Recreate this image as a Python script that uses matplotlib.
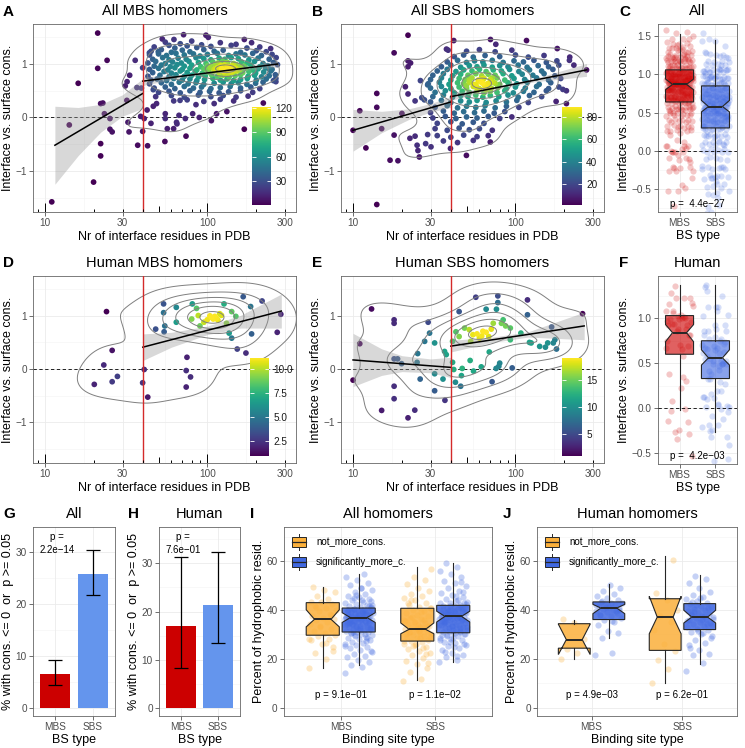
import numpy as np
import matplotlib
matplotlib.use("Agg")
import matplotlib.pyplot as plt
from matplotlib.colors import to_rgba
from matplotlib.patches import Rectangle
from matplotlib.ticker import NullLocator

plt.rcParams['font.family'] = ['Liberation Sans', 'DejaVu Sans']

W, H = 745, 748

# ---------------- data ----------------
# A: all MBS homomers (nr interface residues, interface vs surface cons.)
A_PTS = [(21.1, 1.58), (21.1, 0.92), (24.1, 1.07), (16.0, 0.64), (35.9, 1.07), (33.2, 0.79),
         (32.0, 0.67), (31.2, 0.59), (36.8, 0.56), (39.2, 0.55), (39.9, 0.93), (31.9, 0.32),
         (22.7, 0.27), (22.0, 0.26), (23.2, 0.07), (25.1, -0.02), (14.1, -0.14), (25.1, -0.22),
         (25.9, -0.27), (32.4, -0.09), (32.9, -0.27), (39.9, -0.26), (38.8, 0.02), (40.8, -0.02),
         (44.9, -0.11), (37.2, -0.52), (42.8, -0.53), (22.0, -0.49), (22.0, -0.72), (19.9, -1.21),
         (11.0, -1.58), (46.4, 0.21), (48.6, 0.26), (42.5, 0.14), (55.0, 0.07), (55.0, -0.02),
         (56.6, -0.21), (61.9, -0.21), (64.9, -0.12), (64.5, -0.09), (66.8, 0.04), (73.1, -0.02),
         (73.8, -0.35), (54.7, -0.45), (89.1, 0.0), (81.1, 0.07), (105.7, -0.06), (113.8, 0.07),
         (131.7, 0.11), (168.6, -0.22), (220.8, 0.27), (67.8, 0.32), (46.4, 0.52),
         (71.3, 1.55), (97.9, 1.54), (101.2, 1.50), (52.7, 1.47), (62.2, 1.46), (168.7, 1.46),
         (187, 1.40), (245, 1.29), (43.9, 1.21), (49.8, 1.23), (264, 0.73), (264, 0.67), (237, 0.92),
         (55, 1.41), (68, 1.38), (80, 1.43), (92, 1.36), (120, 1.40), (150, 1.37),
         (47, 1.32), (58, 1.35), (63, 1.30), (75, 1.34), (86, 1.31), (105, 1.33), (140, 1.35), (175, 1.30), (210, 1.32),
         (45, 1.24), (52, 1.27), (60, 1.22), (70, 1.26), (78, 1.23), (95, 1.27), (110, 1.24), (125, 1.26),
         (160, 1.22), (200, 1.25), (230, 1.23),
         (44, 1.17), (50, 1.19), (56, 1.16), (64, 1.20), (72, 1.17), (82, 1.19), (90, 1.15), (100, 1.18),
         (115, 1.20), (135, 1.16), (150, 1.19), (170, 1.17), (190, 1.20), (215, 1.16), (250, 1.18),
         (46, 1.09), (53, 1.12), (58, 1.08), (66, 1.11), (74, 1.09), (85, 1.12), (95, 1.10), (105, 1.08),
         (118, 1.11), (128, 1.09), (140, 1.12), (155, 1.10), (180, 1.08), (205, 1.11), (240, 1.09), (265, 1.12),
         (43, 1.02), (48, 1.05), (55, 1.01), (61, 1.04), (69, 1.02), (77, 1.05), (88, 1.03), (98, 1.01),
         (108, 1.04), (116, 1.02), (124, 1.05), (133, 1.03), (145, 1.01), (162, 1.04), (175, 1.02),
         (195, 1.05), (220, 1.01), (255, 1.03),
         (47, 0.96), (52, 0.98), (59, 0.95), (65, 0.99), (72, 0.96), (80, 0.98), (91, 0.95), (100, 0.97),
         (112, 0.99), (120, 0.96), (127, 0.98), (135, 0.95), (142, 0.97), (150, 0.99), (168, 0.96),
         (185, 0.98), (210, 0.95), (235, 0.97), (270, 0.99),
         (44, 0.90), (50, 0.92), (57, 0.89), (63, 0.93), (70, 0.90), (78, 0.92), (86, 0.89), (95, 0.91),
         (104, 0.93), (113, 0.90), (122, 0.92), (130, 0.89), (138, 0.91), (146, 0.93), (158, 0.90),
         (172, 0.92), (190, 0.89), (205, 0.91), (228, 0.93), (250, 0.90),
         (46, 0.84), (54, 0.86), (60, 0.83), (68, 0.87), (75, 0.84), (84, 0.86), (93, 0.83), (102, 0.85),
         (110, 0.87), (118, 0.84), (126, 0.86), (134, 0.83), (143, 0.85), (152, 0.87), (165, 0.84),
         (180, 0.86), (198, 0.83), (222, 0.85), (245, 0.87),
         (43, 0.77), (51, 0.79), (58, 0.76), (64, 0.80), (72, 0.77), (80, 0.79), (88, 0.76), (97, 0.78),
         (106, 0.80), (115, 0.77), (125, 0.79), (136, 0.76), (148, 0.78), (160, 0.80), (178, 0.77),
         (195, 0.79), (215, 0.76), (240, 0.78), (262, 0.80),
         (45, 0.70), (49, 0.72), (56, 0.69), (62, 0.73), (70, 0.70), (78, 0.72), (86, 0.69), (96, 0.71),
         (108, 0.73), (120, 0.70), (132, 0.72), (145, 0.69), (160, 0.71), (176, 0.73), (200, 0.70),
         (230, 0.72), (255, 0.69),
         (44, 0.63), (52, 0.65), (60, 0.62), (67, 0.66), (76, 0.63), (85, 0.65), (95, 0.62), (110, 0.64),
         (125, 0.66), (140, 0.63), (155, 0.65), (175, 0.62), (198, 0.64), (220, 0.66),
         (47, 0.55), (55, 0.57), (63, 0.54), (72, 0.58), (82, 0.55), (92, 0.57), (105, 0.54), (120, 0.56),
         (138, 0.58), (160, 0.55), (185, 0.57), (210, 0.54),
         (50, 0.47), (58, 0.49), (68, 0.46), (78, 0.50), (90, 0.47), (103, 0.49), (118, 0.46), (135, 0.48),
         (160, 0.50), (190, 0.47),
         (48, 0.39), (60, 0.41), (72, 0.38), (88, 0.42), (105, 0.39), (125, 0.41), (150, 0.38), (178, 0.40),
         (62, 0.31), (75, 0.33), (95, 0.30), (120, 0.34), (145, 0.31), (85, 0.24), (110, 0.26),
         (115, 0.93), (125, 0.88), (132, 0.95), (140, 0.86), (128, 0.82), (118, 1.00), (145, 0.98),
         (110, 0.90), (135, 0.91), (150, 0.92), (122, 0.97), (138, 0.84), (105, 0.95), (160, 0.95),
         (100, 0.88), (130, 1.02), (120, 0.80), (148, 0.88)]

# B: all SBS homomers
B_PTS = [(10.0, -0.24), (11.0, 0.125), (12.0, -0.57), (14.0, 0.45), (14.0, 0.19), (14.0, -1.63),
         (15.0, -0.21), (16.9, -0.80), (17.9, 1.21), (17.9, -0.33), (18.9, -0.81), (20.0, 0.075),
         (21.0, 0.575), (21.8, 1.54), (21.8, 1.06), (21.8, 0.95), (21.8, 0.44), (22.4, -0.39),
         (22.6, 1.02), (24.1, 0.31), (24.1, -0.35), (24.8, -0.52), (25.1, -0.62), (25.6, -0.74),
         (26.0, 0.69), (26.5, 0.37), (27.5, 0.33), (28.0, -0.49), (28.8, -0.32), (28.8, 0.61),
         (30.2, -0.55), (37.6, 1.28), (38.5, 1.26), (39.8, -0.58), (41.7, 1.44), (49.9, -0.71),
         (70.2, 1.46), (75.7, 1.37), (117, 1.44), (181, 1.29), (216, 1.13), (229, 0.98), (215, 1.07),
         (206, 0.50), (206, 0.26), (274, 0.89), (196, 0.525), (178, 0.30),
         (50, 1.24), (60, 1.27), (75, 1.23), (95, 1.26),
         (42, 1.14), (48, 1.17), (55, 1.13), (65, 1.16), (80, 1.14), (100, 1.17), (120, 1.13), (150, 1.16),
         (38, 1.04), (44, 1.07), (50, 1.03), (56, 1.06), (63, 1.04), (72, 1.07), (84, 1.03), (98, 1.06),
         (112, 1.04), (130, 1.07), (155, 1.03), (180, 1.06),
         (35, 0.95), (40, 0.98), (46, 0.94), (52, 0.97), (58, 0.95), (64, 0.98), (72, 0.94), (80, 0.97),
         (90, 0.95), (104, 0.98), (118, 0.94), (138, 0.97), (160, 0.95), (185, 0.98),
         (33, 0.87), (38, 0.90), (43, 0.86), (48, 0.89), (54, 0.87), (60, 0.90), (66, 0.86), (73, 0.89),
         (82, 0.87), (92, 0.90), (105, 0.86), (122, 0.89), (145, 0.87), (170, 0.90),
         (31, 0.79), (36, 0.82), (41, 0.78), (46, 0.81), (51, 0.79), (57, 0.82), (62, 0.78), (68, 0.81),
         (75, 0.79), (84, 0.82), (95, 0.78), (110, 0.81), (128, 0.79), (150, 0.82), (175, 0.78),
         (30, 0.71), (35, 0.74), (40, 0.70), (45, 0.73), (49, 0.71), (54, 0.74), (59, 0.70), (64, 0.73),
         (70, 0.71), (77, 0.74), (86, 0.70), (98, 0.73), (114, 0.71), (135, 0.74), (160, 0.70), (190, 0.73),
         (29, 0.63), (34, 0.66), (39, 0.62), (44, 0.65), (48, 0.63), (52, 0.66), (57, 0.62), (62, 0.65),
         (67, 0.63), (73, 0.66), (80, 0.62), (90, 0.65), (102, 0.63), (118, 0.66), (140, 0.62), (165, 0.65),
         (30, 0.55), (35, 0.58), (40, 0.54), (45, 0.57), (50, 0.55), (55, 0.58), (60, 0.54), (65, 0.57),
         (71, 0.55), (78, 0.58), (88, 0.54), (100, 0.57), (115, 0.55), (135, 0.58), (160, 0.54), (185, 0.57),
         (32, 0.47), (37, 0.50), (42, 0.46), (47, 0.49), (52, 0.47), (58, 0.50), (64, 0.46), (70, 0.49),
         (77, 0.47), (86, 0.50), (97, 0.46), (112, 0.49), (130, 0.47), (155, 0.50),
         (31, 0.39), (36, 0.42), (41, 0.38), (46, 0.41), (51, 0.39), (57, 0.42), (63, 0.38), (70, 0.41),
         (79, 0.39), (90, 0.42), (104, 0.38), (122, 0.41), (145, 0.39),
         (30, 0.29), (35, 0.32), (40, 0.28), (46, 0.31), (52, 0.29), (58, 0.32), (66, 0.28), (76, 0.31),
         (88, 0.29), (102, 0.32), (120, 0.28),
         (32, 0.19), (38, 0.22), (44, 0.18), (50, 0.21), (57, 0.19), (65, 0.22), (75, 0.18), (88, 0.21), (105, 0.19),
         (30, 0.09), (36, 0.12), (42, 0.08), (48, 0.11), (56, 0.09), (64, 0.12), (74, 0.08), (86, 0.11),
         (31, -0.01), (37, 0.02), (43, -0.02), (50, 0.01), (58, -0.01), (68, 0.02), (80, -0.02), (95, 0.01),
         (33, -0.11), (40, -0.08), (47, -0.12), (55, -0.09), (64, -0.11),
         (32, -0.21), (38, -0.24), (45, -0.20), (52, -0.23), (60, -0.21), (72, -0.24),
         (33, -0.34), (40, -0.37), (48, -0.33), (58, -0.36), (68, -0.34),
         (36, -0.44), (44, -0.47), (55, -0.43), (70, -0.46),
         (55, 0.62), (60, 0.68), (65, 0.60), (70, 0.66), (62, 0.72), (58, 0.56), (68, 0.58), (75, 0.64),
         (52, 0.70), (66, 0.52), (72, 0.74), (63, 0.64), (57, 0.60), (78, 0.56), (50, 0.60)]

# D: human MBS homomers
D_PTS = [(23.9, 1.08), (25.9, 0.35), (23.0, 0.075), (20.1, -0.29), (25.9, -0.24), (27.9, -0.14),
         (40.8, -0.01), (39.9, -0.26), (42.9, -0.53), (74.8, 0.22), (74.0, -0.03), (78.7, -0.15),
         (74.0, -0.34), (48.0, 0.75), (53.7, 1.225), (53.7, 1.06), (54.6, 0.81), (54.1, 0.70),
         (64.3, 1.16), (64.3, 0.88), (80.7, 1.225), (85.7, 1.14), (87.8, 1.006), (80.0, 0.94),
         (89.9, 0.81), (95.1, 0.88), (99.7, 0.925), (103.5, 1.0), (108.6, 0.94), (113.8, 0.956),
         (119, 1.04), (111, 0.99), (116, 0.92), (131, 0.86), (136, 0.675), (141, 0.58), (141, 1.08),
         (126.5, 1.225), (149.6, 0.99), (152.6, 0.375), (172.6, 0.30), (166, 1.36), (184.5, 1.175),
         (187, 0.66), (217, 1.28), (269, 0.69), (283, 1.03), (106, 0.97), (122, 1.01)]

# E: human SBS homomers
E_PTS = [(10.0, -0.21), (11.0, 0.475), (13.0, 1.13), (15.0, -0.78), (17.9, 0.925), (17.9, 0.86),
         (17.9, 0.19), (17.9, -0.325), (17.9, -0.56), (18.8, 0.19), (19.9, 0.10), (21.8, -0.92),
         (24.0, -0.775), (24.8, 0.125), (25.0, 0.29), (25.9, -0.19), (27.6, 0.52), (29.0, 0.88),
         (29.6, 0.675), (31.8, 0.49), (31.8, -0.09), (31.8, -0.41), (35.8, -0.19), (36.6, 0.33),
         (37.5, 0.27), (36.8, -0.59), (41.0, 0.125), (41.7, -0.01), (42.7, -0.25), (46.0, -0.325),
         (45.0, 1.08), (47.0, 0.01), (46.5, -0.125), (41.0, 0.52), (43.0, 0.70), (45.0, 0.61),
         (48.6, 0.77), (52.0, 0.74), (54.7, 0.645), (57.0, 1.35), (53.0, 0.52), (52.6, 0.16),
         (55.2, -0.04), (61.6, 0.04), (60.0, 0.58), (63.0, 0.71), (66.0, 0.69), (68.5, 0.61),
         (71.0, 0.75), (69.0, 0.32), (73.0, 0.86), (76.4, 1.125), (77.9, 1.375), (77.9, 1.25),
         (71.8, -0.24), (76.0, 0.01), (79.0, 0.05), (82.0, 0.86), (84.0, 0.925), (80.0, 0.11),
         (87.0, 0.81), (93.0, 0.77), (93.0, 0.55), (95.5, 0.02), (108, 0.675), (118.6, 1.30),
         (122, 0.50), (125, 0.49), (118.6, 1.02), (141, 0.425), (153, 0.41), (158, 0.49), (167, 0.79),
         (175, 0.55), (171, 0.49), (179, 0.375), (259, 1.04), (66.0, 1.125), (58.0, 0.66), (62.0, 0.62)]

# linear fits (x, fitted y, half width of CI) left and right of the 40-residue cut
A_FITS = [([11.5, 16, 22, 30, 40], [-0.52, -0.263, -0.015, 0.226, 0.45], [0.73, 0.45, 0.26, 0.20, 0.28]),
          ([40, 70, 130, 270], [0.68, 0.774, 0.878, 1.0], [0.08, 0.03, 0.025, 0.06])]
B_FITS = [([10, 15, 22, 30, 40], [-0.24, -0.085, 0.061, 0.18, 0.29], [0.39, 0.20, 0.10, 0.08, 0.10]),
          ([40, 70, 130, 274], [0.39, 0.535, 0.696, 0.89], [0.07, 0.03, 0.03, 0.12])]
D_FITS = [([40, 60, 100, 160, 285], [0.41, 0.55, 0.727, 0.89, 1.09], [0.25, 0.14, 0.08, 0.12, 0.32])]
E_FITS = [([10, 15, 20, 30, 40], [0.17, 0.129, 0.10, 0.059, 0.03], [0.50, 0.25, 0.15, 0.13, 0.19]),
          ([40, 70, 120, 265], [0.43, 0.543, 0.651, 0.81], [0.11, 0.05, 0.05, 0.26])]

# box stats: (median, q1, q3, whisker low, whisker high, notch low, notch high)
C_BOX = {'MBS': (0.87, 0.64, 1.06, 0.10, 1.53, 0.80, 0.94),
         'SBS': (0.58, 0.30, 0.85, -0.57, 1.45, 0.51, 0.66)}
F_BOX = {'MBS': (0.84, 0.60, 1.03, -0.02, 1.37, 0.74, 0.93),
         'SBS': (0.56, 0.33, 0.75, -0.26, 1.37, 0.48, 0.65)}
C_P = 'p =  4.4e\u221227'
F_P = 'p =  4.2e\u221203'

BS_TYPES = ['MBS', 'SBS']
G_PCT = [6.6, 25.8]
G_LO = [4.5, 21.7]
G_HI = [9.2, 30.3]
H_PCT = [17.0, 21.4]
H_LO = [8.4, 13.4]
H_HI = [31.3, 32.3]
G_P = 'p =\n2.2e\u221214'
H_P = 'p =\n7.6e\u221201'

GROUPS = ['not_more_cons.', 'significantly_more_c.']
I_MBS_NOT = [16.5, 20.0, 22.4, 24.7, 26.1, 27.6, 28.3, 29.4, 29.9, 30.7, 31.6, 32.4, 33.5, 34.2, 35.1,
             35.9, 36.3, 36.8, 37.7, 38.3, 39.4, 40.2, 40.9, 41.7, 42.6, 43.1, 43.3, 44.6, 45.7, 47.2,
             48.1, 49.4, 38.1, 33.2, 28.1, 26.4, 41.4, 23.3]
I_MBS_SIG = [14.2, 16.8, 17.6, 18.9, 19.5, 20.7, 21.4, 22.2, 23.1, 23.8, 24.3, 24.9, 25.6, 26.2, 26.5,
             27.1, 27.7, 28.0, 28.5, 28.9, 29.3, 29.6, 30.1, 30.4, 30.9, 31.2, 31.5, 31.8, 32.0, 32.4,
             32.6, 33.0, 33.2, 33.6, 33.8, 34.1, 34.3, 34.7, 34.9, 35.2, 35.4, 35.6, 35.9, 36.1, 36.3,
             36.6, 36.8, 37.0, 37.1, 37.3, 37.6, 37.8, 38.1, 38.3, 38.5, 38.8, 39.0, 39.3, 39.5, 39.8,
             40.0, 40.3, 40.6, 40.8, 41.1, 41.5, 41.9, 42.4, 42.8, 43.3, 43.9, 44.5, 45.2, 45.9, 46.6,
             47.4, 48.3, 49.1, 50.2, 51.0, 52.3, 53.4, 54.6, 31.1, 32.2, 33.4, 34.5, 35.0, 35.7, 36.4,
             36.9, 37.4, 37.9, 38.6, 39.1, 39.7, 40.5, 41.3, 36.2, 35.3, 34.0, 33.1, 37.2, 38.9, 40.1,
             32.8, 36.7, 39.9, 27.4, 29.8, 42.1, 44.0, 30.6, 35.8, 37.5, 34.4, 38.2, 33.7, 43.6, 31.9,
             36.0, 28.7, 46.1, 25.1, 39.6, 35.5, 41.7, 32.3, 37.7, 30.3, 44.9, 22.7, 48.8]
I_SBS_NOT = [11.2, 12.0, 14.5, 16.3, 17.8, 19.0, 20.4, 21.5, 22.6, 23.4, 24.2, 25.0, 25.7, 26.3, 26.9,
             27.4, 27.9, 28.4, 28.8, 29.3, 29.7, 30.2, 30.6, 31.0, 31.4, 31.8, 32.1, 32.5, 32.9, 33.3,
             33.8, 34.2, 34.7, 35.2, 35.8, 36.3, 36.9, 37.5, 38.1, 38.8, 39.4, 40.1, 40.7, 41.4, 42.2,
             43.0, 43.9, 44.8, 45.6, 46.7, 47.8, 49.0, 50.5, 52.1, 53.6, 56.8, 28.6, 30.9, 33.6, 26.0,
             35.5, 24.6, 37.2, 29.0, 31.6, 42.7, 22.1, 34.9, 27.2, 39.0, 44.2, 18.4, 32.7, 30.0, 36.0,
             25.4, 41.0, 33.0]
I_SBS_SIG = [18.6, 19.4, 20.8, 21.7, 22.5, 23.6, 24.4, 25.2, 25.8, 26.5, 27.0, 27.6, 28.1, 28.7, 29.2,
             29.6, 30.1, 30.5, 30.9, 31.3, 31.6, 32.0, 32.3, 32.7, 33.0, 33.4, 33.7, 34.0, 34.4, 34.7,
             35.0, 35.4, 35.7, 36.0, 36.3, 36.6, 36.9, 37.2, 37.5, 37.7, 38.0, 38.3, 38.6, 38.9, 39.2,
             39.5, 39.8, 40.1, 40.4, 40.8, 41.1, 41.5, 41.8, 42.2, 42.7, 43.2, 43.8, 44.5, 45.3, 46.0,
             46.9, 47.8, 48.8, 49.7, 50.9, 52.0, 53.3, 54.6, 56.1, 57.6, 59.0, 26.2, 28.4, 29.9, 31.0,
             32.5, 33.2, 34.2, 35.2, 35.9, 36.5, 37.0, 37.8, 38.4, 39.0, 39.6, 40.3, 41.0, 41.6, 33.9,
             36.8, 38.8, 40.6, 31.8, 35.5, 37.3, 39.4, 42.4, 30.7, 34.6, 36.2, 38.1, 27.9, 44.1, 29.4,
             43.0, 24.9, 37.9, 32.8, 40.0, 35.8, 45.8, 22.9, 47.3, 33.5, 38.6, 41.3, 36.7, 30.3, 39.7,
             34.9, 51.6, 26.8, 42.9, 21.2, 37.1]
J_MBS_NOT = [20.0, 22.5, 24.0, 28.0, 34.8, 36.2]
J_MBS_SIG = [21.8, 22.6, 28.7, 30.8, 31.4, 33.9, 35.2, 36.0, 36.7, 37.4, 38.0, 38.6, 39.1, 39.7, 40.2,
             40.6, 40.9, 41.2, 41.6, 41.9, 42.3, 42.7, 43.0, 43.4, 44.1, 44.9, 45.8, 46.7, 47.6, 48.8,
             50.3, 37.8, 39.4, 41.4, 42.0, 35.6, 43.8, 40.0]
J_SBS_NOT = [10.2, 16.0, 19.5, 23.2, 26.0, 31.8, 35.0, 37.5, 40.2, 44.0, 46.9, 60.5]
J_SBS_SIG = [15.2, 18.3, 21.7, 22.2, 23.8, 25.7, 26.4, 27.9, 29.3, 30.2, 31.1, 31.8, 32.4, 33.0, 33.6,
             34.1, 34.7, 35.2, 35.8, 36.3, 36.7, 37.0, 37.4, 37.9, 38.3, 38.8, 39.4, 39.9, 40.5, 41.1,
             41.7, 42.3, 42.9, 43.6, 44.4, 45.3, 46.2, 47.5, 49.1, 51.0, 52.7, 54.0, 33.8, 36.0, 38.5,
             40.8, 31.5, 35.5, 37.7, 39.0, 28.6, 44.9, 24.5, 34.4, 41.9, 36.5, 30.7, 43.2]
I_BOX = {('MBS', 0): (36.2, 29.7, 43.0, 16.5, 49.5, 33.1, 40.1),
         ('MBS', 1): (36.9, 31.0, 40.8, 17.7, 54.7, 34.9, 38.9),
         ('SBS', 0): (32.1, 27.3, 40.7, 11.6, 57.4, 30.3, 34.7),
         ('SBS', 1): (37.4, 30.7, 41.9, 18.8, 59.0, 35.1, 39.5)}
J_BOX = {('MBS', 0): (27.9, 24.4, 34.4, 20.0, 36.0, 21.8, 34.2),
         ('MBS', 1): (40.8, 36.1, 43.3, 28.6, 50.5, 38.5, 42.3),
         ('SBS', 0): (37.1, 23.5, 44.6, 10.3, 62.0, 30.3, 45.6),
         ('SBS', 1): (37.1, 32.0, 42.6, 18.1, 54.3, 34.7, 39.9)}
I_P = ['p = 9.1e\u221201', 'p = 1.1e\u221202']
J_P = ['p = 4.9e\u221203', 'p = 6.2e\u221201']

# ---------------- helpers ----------------
RED, BLUE = '#CD0000', '#4169E1'
ORANGE, RBLUE = '#FBB03B', '#4169E1'
GRID = '#EBEBEB'
fig = plt.figure(figsize=(W / 100, H / 100), dpi=100)


def rect(l, t, r, b):
    return [l / W, 1 - b / H, (r - l) / W, (b - t) / H]


def ftext(px, py, s, **kw):
    fig.text(px / W, 1 - py / H, s, **kw)


def style(ax):
    for s in ax.spines.values():
        s.set_color('#666666')
        s.set_linewidth(0.6)
    ax.tick_params(length=3, width=0.5, color='#333333', labelsize=7.2,
                   labelcolor='#4D4D4D', pad=1.5)
    ax.set_axisbelow(True)


def bw_nrd(v):
    q1, q3 = np.percentile(v, [25, 75])
    return 1.06 * min(np.std(v, ddof=1), (q3 - q1) / 1.34) * len(v) ** (-0.2)


def kern(px, py, gx, gy, sx, sy):
    d = ((gx[..., None] - px) / sx) ** 2 + ((gy[..., None] - py) / sy) ** 2
    return np.exp(-0.5 * d).sum(-1) / (2 * np.pi * sx * sy * len(px))


def scatter_panel(box, pts, fits, vmax, cbox, cticks, clabels):
    ax = fig.add_axes(rect(*box))
    style(ax)
    x = np.array([p[0] for p in pts], float)
    y = np.array([p[1] for p in pts], float)
    lx = np.log10(x)
    sx, sy = bw_nrd(lx), bw_nrd(y)
    dens = kern(lx, y, lx, y, sx, sy)
    col = 1 + (dens - dens.min()) / (dens.max() - dens.min()) * (vmax - 1)
    o = np.argsort(col)
    ax.set_xscale('log')
    for v in [17.3, 54.8, 173]:
        ax.axvline(v, color='#F4F4F4', lw=0.4, zorder=0)
    for v in [-1.5, -0.5, 0.5, 1.5]:
        ax.axhline(v, color='#F4F4F4', lw=0.4, zorder=0)
    for v in [10, 30, 100, 300]:
        ax.axvline(v, color=GRID, lw=0.6, zorder=0)
    for v in [-1, 0, 1]:
        ax.axhline(v, color=GRID, lw=0.6, zorder=0)
    ax.axhline(0, color='black', lw=0.6, ls=(0, (4, 3)), zorder=1.5)
    sc = ax.scatter(x[o], y[o], c=col[o], cmap='viridis', vmin=1, vmax=vmax, s=17,
                    linewidths=0, zorder=2)
    gx = np.linspace(lx.min() - 0.4, lx.max() + 0.4, 140)
    gy = np.linspace(y.min() - 0.6, y.max() + 0.6, 140)
    GX, GY = np.meshgrid(gx, gy)
    Z = kern(lx, y, GX, GY, sx, sy)
    ax.contour(10 ** GX, GY, Z, levels=Z.max() * np.array([0.09, 0.26, 0.43, 0.60, 0.77, 0.93]),
               colors='#7F7F7F', linewidths=0.7, zorder=3)
    for fx, fy, hw in fits:
        fy, hw = np.array(fy), np.array(hw)
        ax.fill_between(fx, fy - hw, fy + hw, color='#999999', alpha=0.38, lw=0, zorder=4)
        ax.plot(fx, fy, color='black', lw=1.1, zorder=5)
    ax.axvline(40, color='#D42A2A', lw=1.0, zorder=6)
    ax.set_xlim(8.43, 351)
    ax.set_ylim(-1.77, 1.75)
    # log ticks drawn inside the panel along the bottom edge
    hgt = box[3] - box[1]
    xt = ax.get_xaxis_transform()
    for k in [0, 1, 2]:
        for m in range(1, 10):
            v = m * 10 ** k
            if 8.43 < v < 351:
                ln = 9 if m == 1 else (6 if m == 5 else 3.5)
                ax.vlines(v, 0, ln / hgt, colors='black', lw=0.7, transform=xt, zorder=7)
    ax.set_xticks([10, 30, 100, 300])
    ax.set_xticklabels(['10', '30', '100', '300'])
    ax.xaxis.set_minor_locator(NullLocator())
    ax.set_yticks([-1, 0, 1])
    ax.set_yticklabels(['\u22121', '0', '1'])
    ax.set_xlabel('Nr of interface residues in PDB', fontsize=9, labelpad=2)
    ax.set_ylabel('Interface vs. surface cons.', fontsize=9, labelpad=1)
    cax = fig.add_axes(rect(*cbox))
    cb = fig.colorbar(sc, cax=cax)
    cb.outline.set_visible(False)
    cb.set_ticks(cticks)
    cb.set_ticklabels(clabels)
    cax.yaxis.set_ticks_position('both')
    cax.tick_params(direction='in', length=3, width=0.6, color='white', labelsize=7.2,
                    labelcolor='#1A1A1A', pad=3, labelleft=False, labelright=True)
    return ax


def jitter(n, w):
    return ((np.arange(n) * 0.6180339887) % 1.0 - 0.5) * 2 * w


def draw_box(ax, pos, st, width, face, alpha):
    med, q1, q3, lo, hi, cilo, cihi = st
    s = [dict(med=med, q1=q1, q3=q3, whislo=lo, whishi=hi, cilo=cilo, cihi=cihi, fliers=[])]
    ax.bxp(s, positions=[pos], widths=width, shownotches=True, showcaps=False, showfliers=False,
           patch_artist=True, manage_ticks=False, zorder=3,
           boxprops=dict(facecolor=to_rgba(face, alpha), edgecolor='#262626', linewidth=0.8),
           whiskerprops=dict(color='#262626', linewidth=0.8),
           medianprops=dict(color='#262626', linewidth=1.4))


def cat_axes(ax, ylim, yticks, ylabels, minor):
    style(ax)
    ax.set_xlim(0.4, 2.6)
    ax.set_ylim(*ylim)
    for v in minor:
        ax.axhline(v, color='#F4F4F4', lw=0.4, zorder=0)
    for v in yticks:
        ax.axhline(v, color=GRID, lw=0.6, zorder=0)
    for v in [1, 2]:
        ax.axvline(v, color=GRID, lw=0.6, zorder=0)
    ax.set_xticks([1, 2])
    ax.set_xticklabels(BS_TYPES)
    ax.set_yticks(yticks)
    ax.set_yticklabels(ylabels)


def cons_box_panel(box, ys, stats, ptxt, ylim, yticks, ylabels, minor, py):
    ax = fig.add_axes(rect(*box))
    cat_axes(ax, ylim, yticks, ylabels, minor)
    ax.axhline(0, color='black', lw=0.6, ls=(0, (4, 3)), zorder=4)
    for i, (vals, c) in enumerate(zip(ys, [RED, BLUE])):
        vals = np.array(vals)
        ax.scatter(i + 1 + jitter(len(vals), 0.38), vals, s=20, color=c, alpha=0.22,
                   linewidths=0, zorder=2)
        draw_box(ax, i + 1, stats[BS_TYPES[i]], 0.78, c, 0.62)
    ax.text(1.5, py, ptxt, ha='center', va='center', fontsize=7, zorder=6)
    ax.set_xlabel('BS type', fontsize=9, labelpad=1)
    ax.set_ylabel('Interface vs. surface cons.', fontsize=9, labelpad=1)
    return ax


def bar_panel(box, vals, lo, hi, ptxt, ylim, py):
    ax = fig.add_axes(rect(*box))
    cat_axes(ax, ylim, [0, 10, 20, 30], ['0', '10', '20', '30'], [5, 15, 25, 35])
    ax.bar([1, 2], vals, width=0.8, color=['#CC0000', '#6495ED'], zorder=2)
    v = np.array(vals)
    ax.errorbar([1, 2], v, yerr=[v - np.array(lo), np.array(hi) - v], fmt='none', ecolor='black',
                elinewidth=0.9, capsize=4.8, capthick=0.9, zorder=3)
    ax.text(1.05, py, ptxt, ha='center', va='top', fontsize=7, linespacing=1.35, zorder=5)
    ax.set_xlabel('BS type', fontsize=9, labelpad=1)
    ax.set_ylabel('% with cons. <= 0  or  p >= 0.05', fontsize=9, labelpad=1)
    return ax


def hydro_panel(box, groups, stats, ptxts):
    ax = fig.add_axes(rect(*box))
    cat_axes(ax, (-3.3, 73.9), [0, 20, 40, 60], ['0', '20', '40', '60'], [10, 30, 50, 70])
    for i, bs in enumerate(BS_TYPES):
        for g, (c, off) in enumerate([(ORANGE, -0.19), (RBLUE, 0.19)]):
            vals = np.array(groups[(bs, g)])
            ax.scatter(i + 1 + off + jitter(len(vals), 0.15), vals, s=20, color=c, alpha=0.3,
                       linewidths=0, zorder=2)
            draw_box(ax, i + 1 + off, stats[(bs, g)], 0.35, c, 0.85)
        ax.text(i + 1, 5.3, ptxts[i], ha='center', va='center', fontsize=7, zorder=6)
    ax.set_xlabel('Binding site type', fontsize=9, labelpad=1)
    ax.set_ylabel('Percent of hydrophobic resid.', fontsize=9, labelpad=1)
    # legend with boxplot keys
    l, t, r, b = box
    fx = lambda p: (p - l) / (r - l)
    fy = lambda p: (b - p) / (b - t)
    for k, (lab, c) in enumerate(zip(GROUPS, [ORANGE, RBLUE])):
        cx, cy = l + 15, t + 15 + 20 * k
        ax.plot([fx(cx), fx(cx)], [fy(cy - 8), fy(cy + 8)], color='#262626', lw=0.7,
                transform=ax.transAxes, zorder=7)
        ax.add_patch(Rectangle((fx(cx - 7), fy(cy + 5)), fx(cx + 7) - fx(cx - 7), fy(cy - 5) - fy(cy + 5),
                               transform=ax.transAxes, facecolor=c, edgecolor='#262626', lw=0.7, zorder=8))
        ax.plot([fx(cx - 7), fx(cx + 7)], [fy(cy), fy(cy)], color='#262626', lw=0.9,
                transform=ax.transAxes, zorder=9)
        ax.text(fx(cx + 17), fy(cy), lab, transform=ax.transAxes, ha='left', va='center',
                fontsize=7, zorder=9)
    return ax


# ---------------- panels ----------------
scatter_panel((33, 24, 296, 212), A_PTS, A_FITS, 121, (252, 107, 271, 205),
              [30, 60, 90, 120], ['30', '60', '90', '120'])
scatter_panel((341, 24, 604, 212), B_PTS, B_FITS, 89, (562, 107, 582, 205),
              [20, 40, 60, 80], ['20', '40', '60', '80'])
scatter_panel((33, 276, 296, 463), D_PTS, D_FITS, 11.1, (250, 358, 269, 456),
              [2.5, 5, 7.5, 10], ['2.5', '5.0', '7.5', '10.0'])
scatter_panel((341, 276, 604, 463), E_PTS, E_FITS, 19, (562, 358, 582, 456),
              [5, 10, 15], ['5', '10', '15'])

cons_box_panel((658, 24, 737, 212), [[p[1] for p in A_PTS], [p[1] for p in B_PTS]], C_BOX, C_P,
               (-0.80, 1.66), [-0.5, 0, 0.5, 1.0, 1.5], ['\u22120.5', '0.0', '0.5', '1.0', '1.5'],
               [-0.75, -0.25, 0.25, 0.75, 1.25], -0.70)
cons_box_panel((658, 276, 737, 464), [[p[1] for p in D_PTS], [p[1] for p in E_PTS]], F_BOX, F_P,
               (-0.62, 1.47), [-0.5, 0, 0.5, 1.0], ['\u22120.5', '0.0', '0.5', '1.0'],
               [-0.25, 0.25, 0.75, 1.25], -0.53)

bar_panel((33, 527, 115, 716), G_PCT, G_LO, G_HI, G_P, (-1.5, 34.8), 33.8)
bar_panel((159, 527, 240, 716), H_PCT, H_LO, H_HI, H_P, (-1.6, 37.5), 36.4)

hydro_panel((284, 527, 492, 716),
            {('MBS', 0): I_MBS_NOT, ('MBS', 1): I_MBS_SIG, ('SBS', 0): I_SBS_NOT, ('SBS', 1): I_SBS_SIG},
            I_BOX, I_P)
hydro_panel((537, 527, 737, 716),
            {('MBS', 0): J_MBS_NOT, ('MBS', 1): J_MBS_SIG, ('SBS', 0): J_SBS_NOT, ('SBS', 1): J_SBS_SIG},
            J_BOX, J_P)

# titles and panel letters
titles = [((33 + 296) / 2, 11, 'All MBS homomers'), ((341 + 604) / 2, 11, 'All SBS homomers'),
          ((658 + 737) / 2, 11, 'All'), ((33 + 296) / 2, 263, 'Human MBS homomers'),
          ((341 + 604) / 2, 263, 'Human SBS homomers'), ((658 + 737) / 2, 263, 'Human'),
          ((33 + 115) / 2, 514, 'All'), ((159 + 240) / 2, 514, 'Human'),
          ((284 + 492) / 2, 514, 'All homomers'), ((537 + 737) / 2, 514, 'Human homomers')]
for px, py, s in titles:
    ftext(px, py, s, ha='center', va='center', fontsize=10.5)
letters = [(3, 12, 'A'), (312, 12, 'B'), (619, 12, 'C'), (3, 263, 'D'), (312, 263, 'E'),
           (619, 263, 'F'), (3, 514, 'G'), (128, 514, 'H'), (250, 514, 'I'), (503, 514, 'J')]
for px, py, s in letters:
    ftext(px, py, s, ha='left', va='center', fontsize=11, fontweight='bold')

fig.savefig('out.png', dpi=100)
